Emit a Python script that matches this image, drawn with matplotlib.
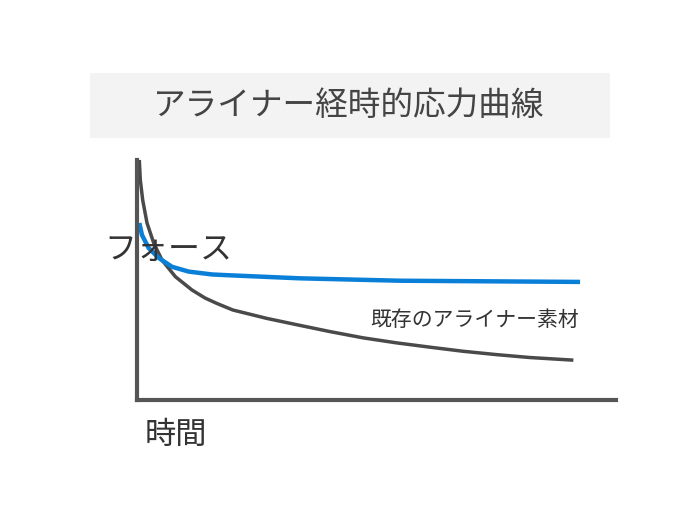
import matplotlib
matplotlib.use("Agg")
import matplotlib.pyplot as plt
from matplotlib.patches import Rectangle

plt.rcParams['font.family'] = ['Noto Sans CJK JP', 'DejaVu Sans']

title = "アライナー経時的応力曲線"
ylabel = "フォース"
xlabel = "時間"
series_label = "既存のアライナー素材"

# existing aligner material (dark curve)
dark_x = [0.48, 0.69, 1.19, 2.09, 3.49, 5.22, 8.0, 11.5, 14.2, 16.6, 20.0, 27.1,
          34.0, 40.3, 47.2, 54.2, 61.2, 68.1, 75.1, 82.0, 91.1]
dark_y = [100, 91.7, 83.3, 73.75, 65.4, 58.3, 51.4, 45.8, 42.5, 40.3, 37.5, 34.0,
          31.1, 28.5, 25.9, 23.8, 22.0, 20.3, 18.9, 17.7, 16.6]
# new material (blue curve)
blue_x = [0.48, 1.04, 2.44, 4.53, 7.31, 10.8, 15.7, 20.0, 34.0, 54.9, 92.5]
blue_y = [73.75, 68.75, 63.3, 59.2, 55.5, 53.5, 52.3, 51.9, 50.7, 49.7, 49.2]

W, H = 700, 514
fig = plt.figure(figsize=(W/100, H/100), dpi=100)

# title box
fig.patches.append(Rectangle((90/W, 1-138/H), 520/W, 65/H, transform=fig.transFigure,
                             facecolor='#f4f3f3', edgecolor='none', zorder=0))
fig.text(349/W, 1-106/H, title, ha='center', va='center', fontsize=23.5, color='#444444')

ax = fig.add_axes([137/W, 1-400/H, 479/W, 240/H])
ax.set_xlim(0, 100)
ax.set_ylim(0, 100)
ax.plot(dark_x, dark_y, color='#4a4a4a', lw=2.5, solid_capstyle='butt',
        solid_joinstyle='round', zorder=3, clip_on=False)
ax.plot(blue_x, blue_y, color='#0a7fd8', lw=3.2, solid_capstyle='butt',
        solid_joinstyle='round', zorder=4, clip_on=False)
for s in ['top', 'right']:
    ax.spines[s].set_visible(False)
for s in ['left', 'bottom']:
    ax.spines[s].set_color('#555555')
    ax.spines[s].set_linewidth(3)
    ax.spines[s].set_zorder(5)
ax.set_xticks([])
ax.set_yticks([])
ax.patch.set_alpha(0)

fig.text(168/W, 1-250/H, ylabel, ha='center', va='center', fontsize=23, color='#333333', zorder=5)
fig.text(176/W, 1-435/H, xlabel, ha='center', va='center', fontsize=22.5, color='#333333')
fig.text(475/W, 1-320/H, series_label, ha='center', va='center', fontsize=15, color='#333333')

fig.savefig("out.png", dpi=100)
